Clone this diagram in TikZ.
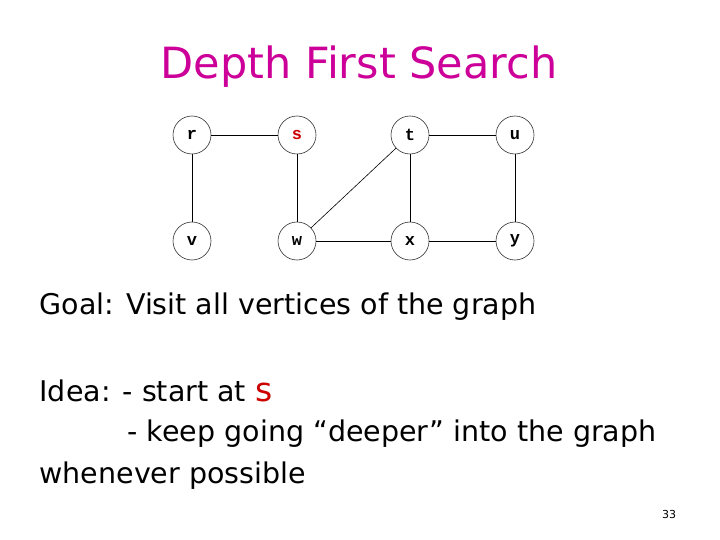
\documentclass[tikz,border=0pt]{standalone}
\usepackage{fontspec}
\setmainfont{DejaVu Sans}
\newfontfamily\vxfont{Liberation Mono}
\usetikzlibrary{positioning}
\definecolor{titlemag}{RGB}{204,0,153}
\definecolor{sred}{RGB}{204,0,0}
\tikzset{vertex/.style={circle,draw=black!80,semithick,fill=white,minimum size=38pt,inner sep=0pt,font=\vxfont\bfseries\fontsize{17}{17}\selectfont},
  body/.style={anchor=west,font=\fontsize{28.5}{32}\selectfont}}
\begin{document}
\begin{tikzpicture}[x=1pt,y=-1pt]
  \useasboundingbox (0,0) rectangle (720,540);
  % title
  \node[font=\fontsize{43}{45}\selectfont,text=titlemag] (title) at (359,67) {Depth First Search};
  % graph
  \node[vertex] (r) at (192,135) {r};
  \node[vertex,text=sred] (s) at (297,135) {s};
  \node[vertex] (t) at (410,135) {t};
  \node[vertex] (u) at (515,135) {u};
  \node[vertex] (v) at (192,241) {v};
  \node[vertex] (w) at (297,241) {w};
  \node[vertex] (x) at (410,241) {x};
  \node[vertex] (y) at (515,241) {y};
  \foreach \a/\b in {r/s,r/v,s/w,t/u,t/w,t/x,u/y,w/x,x/y}
    \draw[semithick] (\a) -- (\b);
  % text
  \node[body] (goal) at (36,307) {Goal: Visit all vertices of the graph};
  \node[body] (idea) at (36,391) {Idea: - start at \textcolor{sred}{\fontsize{33}{33}\selectfont s}};
  \node[body] (keep) at (124,434) {- keep going “deeper” into the graph};
  \node[body] (when) at (36,476) {whenever possible};
  \node[font=\fontsize{11}{11}\selectfont] (page) at (669,514) {33};
\end{tikzpicture}
\end{document}
